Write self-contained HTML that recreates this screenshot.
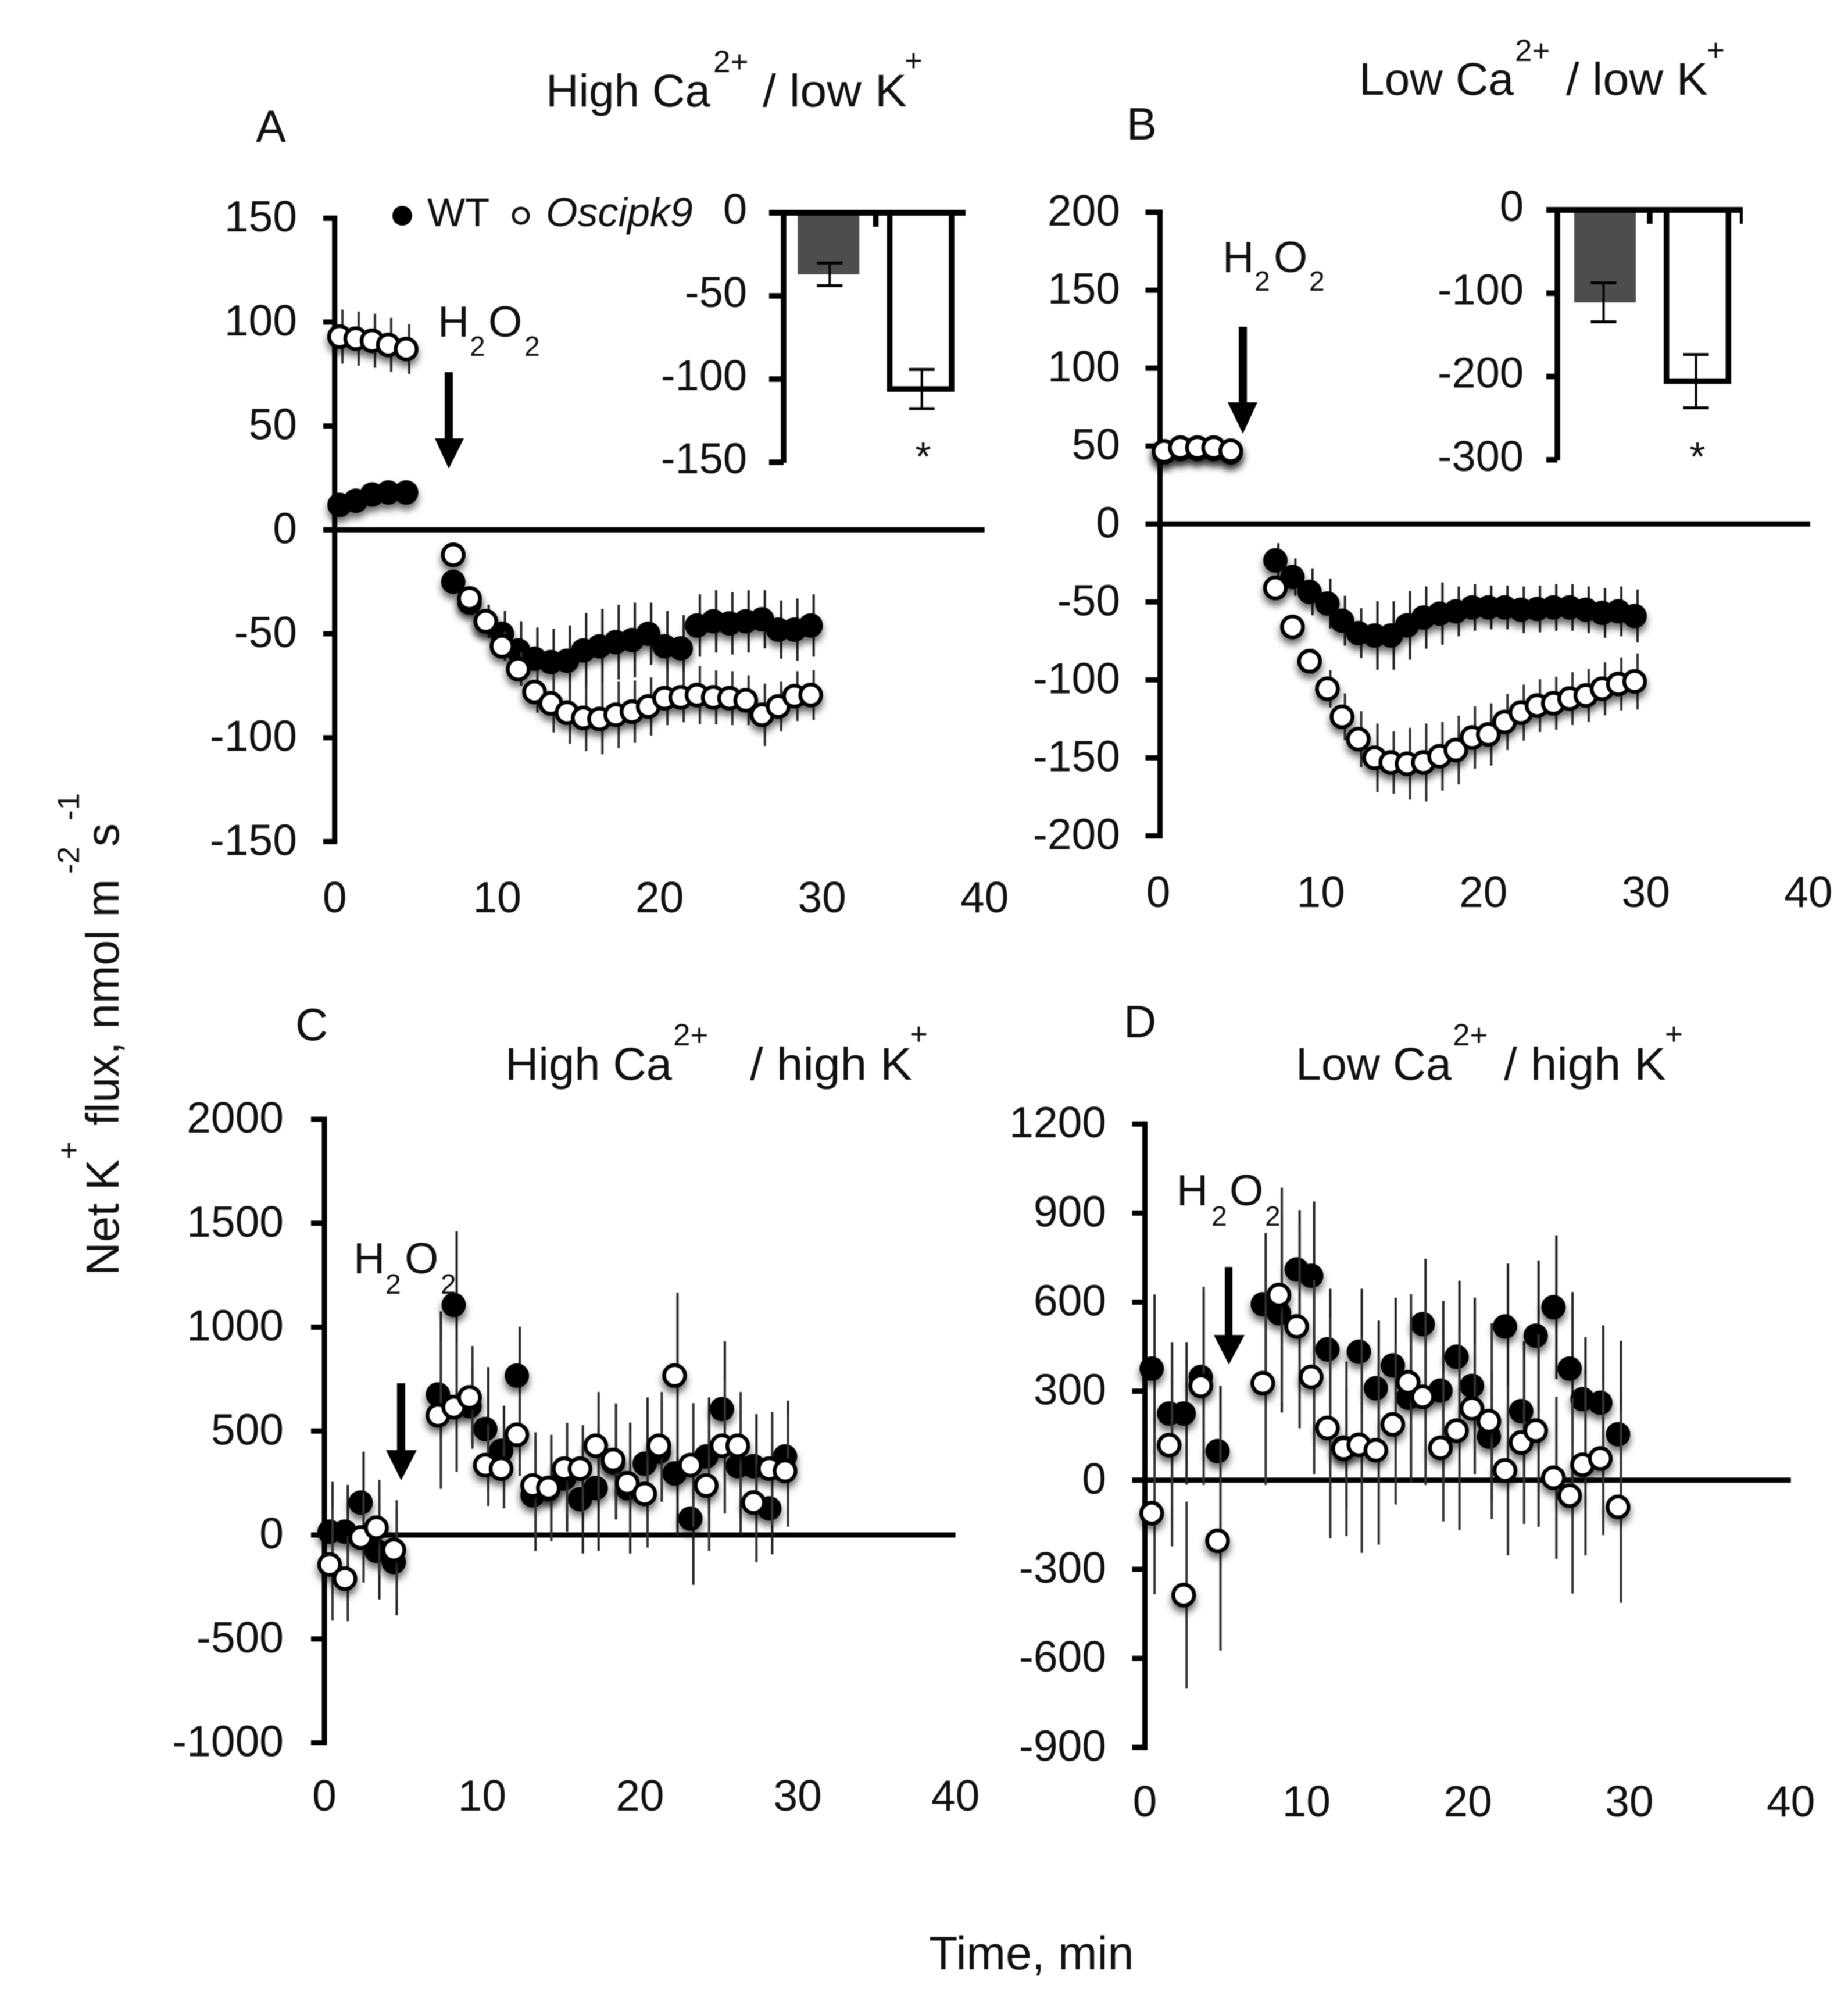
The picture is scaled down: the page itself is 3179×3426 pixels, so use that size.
<!DOCTYPE html>
<html lang="en">
<head>
<meta charset="utf-8">
<title>Net K+ flux panels</title>
<style>
html,body{margin:0;padding:0;background:#fff;width:3179px;height:3426px;overflow:hidden}
svg{display:block;filter:blur(0.9px)}
text{font-family:"Liberation Sans",Arial,sans-serif;fill:#111}
.t{font-size:79px}.s{font-size:53px}.l{font-size:78px}.h{font-size:75px}.hs{font-size:48px}
</style>
</head>
<body>
<svg id="chart" xmlns="http://www.w3.org/2000/svg" width="3179" height="3426" viewBox="0 0 3179 3426">
<defs>
<filter id="shadow" filterUnits="userSpaceOnUse" x="0" y="0" width="3179" height="3426">
<feDropShadow dx="0" dy="9" stdDeviation="6.5" flood-color="#000" flood-opacity="0.6"/>
</filter>
</defs>
<rect x="0" y="0" width="3179" height="3426" fill="#fff"/>

<g>
<text class="t" x="939" y="183" textLength="283" lengthAdjust="spacingAndGlyphs">High Ca</text>
<text class="s" x="1227" y="124">2+</text>
<text class="t" x="1312" y="183" textLength="248" lengthAdjust="spacingAndGlyphs">/ low K</text>
<text class="s" x="1556" y="122">+</text>
</g>
<g>
<text class="t" x="2338" y="163" textLength="266" lengthAdjust="spacingAndGlyphs">Low Ca</text>
<text class="s" x="2606" y="105">2+</text>
<text class="t" x="2694" y="163" textLength="244" lengthAdjust="spacingAndGlyphs">/ low K</text>
<text class="s" x="2936" y="104">+</text>
</g>
<g>
<text class="t" x="869" y="1857" textLength="287" lengthAdjust="spacingAndGlyphs">High Ca</text>
<text class="s" x="1158" y="1798">2+</text>
<text class="t" x="1290" y="1857" textLength="279" lengthAdjust="spacingAndGlyphs">/ high K</text>
<text class="s" x="1565" y="1796">+</text>
</g>
<g>
<text class="t" x="2229" y="1857" textLength="268" lengthAdjust="spacingAndGlyphs">Low Ca</text>
<text class="s" x="2499" y="1798">2+</text>
<text class="t" x="2587" y="1857" textLength="279" lengthAdjust="spacingAndGlyphs">/ high K</text>
<text class="s" x="2864" y="1796">+</text>
</g>

<text class="l" x="440" y="244">A</text>
<text class="l" x="1938" y="240">B</text>
<text class="l" x="508" y="1789">C</text>
<text class="l" x="1933" y="1784">D</text>

<g>
<text font-size="80" transform="translate(204,2194) rotate(-90)">Net K</text>
<text class="s" transform="translate(136,1994) rotate(-90)">+</text>
<text font-size="80" transform="translate(204,1936) rotate(-90)" textLength="424" lengthAdjust="spacingAndGlyphs">flux, nmol m</text>
<text class="s" transform="translate(136,1503) rotate(-90)">-2</text>
<text font-size="80" transform="translate(204,1456) rotate(-90)">s</text>
<text class="s" transform="translate(136,1411) rotate(-90)">-1</text>
</g>
<text font-size="81" x="1598" y="3387">Time, min</text>

<g id="panels"></g>

<g>
<circle cx="692" cy="371" r="17" fill="#000"/>
<text font-size="69" x="735" y="389">WT</text>
<circle cx="896" cy="371" r="13" fill="#fff" stroke="#111" stroke-width="5"/>
<text font-size="70" font-style="italic" x="939" y="389">Oscipk9</text>
</g>

<g>
<text class="h" x="753" y="579">H</text><text class="hs" x="808" y="612">2</text><text class="h" x="840" y="579">O</text><text class="hs" x="902" y="612">2</text>
</g>
<g>
<text class="h" x="2103" y="468">H</text><text class="hs" x="2158" y="500">2</text><text class="h" x="2191" y="468">O</text><text class="hs" x="2252" y="500">2</text>
</g>
<g>
<text class="h" x="608" y="2190">H</text><text class="hs" x="663" y="2225">2</text><text class="h" x="696" y="2190">O</text><text class="hs" x="758" y="2225">2</text>
</g>
<g>
<text class="h" x="2024" y="2073">H</text><text class="hs" x="2084" y="2108">2</text><text class="h" x="2115" y="2073">O</text><text class="hs" x="2176" y="2108">2</text>
</g>

<polygon points="765,640 779,640 779,754 798,754 772,806 748,754 765,754" fill="#000"/>
<polygon points="2131,562 2145,562 2145,692 2163,692 2138,746 2112,692 2131,692" fill="#000"/>
<polygon points="683,2379 697,2379 697,2494 717,2494 690,2546 664,2494 683,2494" fill="#000"/>
<polygon points="2107,2179 2120,2179 2120,2296 2141,2296 2114,2347 2088,2296 2107,2296" fill="#000"/>

<text font-size="70" x="1588" y="809" text-anchor="middle" fill="#333">*</text>
<text font-size="70" x="2920" y="809" text-anchor="middle" fill="#333">*</text>
</svg>
<script>
// Panel A
const xTicks = [0, 10, 20, 30, 40];
const yTicksA = [150, 100, 50, 0, -50, -100, -150];
const timeA = [0.3,1.3,2.3,3.3,4.4,7.3,8.3,9.3,10.3,11.3,12.3,13.3,14.3,15.3,16.3,17.3,18.3,19.3,20.3,21.3,22.3,23.3,24.3,25.3,26.3,27.3,28.3,29.3];
const wtA = [12,14,17,18,18,-25,-35,-44,-50,-58,-62,-63.6,-63,-58,-56,-54,-53,-50,-56,-57,-46,-44,-45,-44,-43,-48,-48,-46];
const wtErrA = [3,3,3,3,3,5,6,8,11,14,15,16,17,18,18,18,18,15,17,16,15,15,15,15,14,14,15,15];
const oscA = [93,92,91,89,87,-12,-33,-44,-56,-67,-78,-83.5,-88,-90.5,-91,-89,-87.5,-85,-81,-80.6,-79.5,-80.6,-81,-82,-89,-85,-80,-79.5];
const oscErrA = [13,13,13,13,12,2,3,5,7,8,10,14,15,16,17,16,15,14,13,12,14,13,13,12,15,12,12,12];
// Panel B
const yTicksB = [200, 150, 100, 50, 0, -50, -100, -150, -200];
const timeB = [0.25,1.25,2.3,3.3,4.35,7.1,8.15,9.2,10.3,11.2,12.2,13.2,14.2,15.2,16.2,17.2,18.2,19.2,20.2,21.2,22.2,23.2,24.2,25.2,26.2,27.2,28.2,29.2];
const wtB = [46,48,48,48,46,-23.3,-34,-43.5,-51,-62,-70,-71.5,-71.5,-65,-60,-57.5,-56,-53.5,-53.5,-53.5,-55,-54.5,-53.5,-53.5,-55,-57,-56,-59];
const wtErrB = [3,3,3,3,3,11,12,15,16,16,16,22,22,22,20,20,16,15,14,14,15,15,15,15,15,16,16,17];
const oscB = [46.6,49,49,49,47,-41,-66,-88,-105.7,-123.7,-138,-150,-153,-153.8,-153,-149,-145,-137,-135,-127,-121,-116.5,-115,-112,-110,-105.7,-102.6,-101];
const oscErrB = [3,3,3,3,3,1,2,8,12,15,18,22,20,23,25,22,22,20,20,18,18,17,17,17,17,17,17,18];
// Panel C
const yTicksC = [2000, 1500, 1000, 500, 0, -500, -1000];
const timeC = [0.33,1.3,2.3,3.3,4.4,7.2,8.2,9.2,10.2,11.2,12.2,13.2,14.2,15.2,16.2,17.2,18.3,19.2,20.3,21.2,22.2,23.2,24.2,25.2,26.2,27.2,28.2,29.2];
const wtC = [16,16,156,-77,-130,676,1107,620,510,405,767,191,220,272,172,226,350,226,343,400,296,79,378,606,331,331,128,378];
const wtErrC = [240,225,245,233,256,400,354,180,298,217,235,268,226,256,261,303,275,315,319,240,300,319,284,326,326,250,221,268];
const oscC = [-142,-210,-12,35,-72,576,615,662,336,319,482,238,226,319,319,429,361,249,198,429,767,336,238,429,429,156,319,308];
const oscErrC = [270,205,217,230,240,354,312,247,196,191,198,256,256,221,210,259,272,255,259,259,399,298,315,326,259,287,273,268];
// Panel D
const yTicksD = [1200, 900, 600, 300, 0, -300, -600, -900];
const timeD = [0.42,1.5,2.4,3.46,4.5,7.3,8.3,9.4,10.3,11.3,12.3,13.25,14.3,15.35,16.3,17.2,18.3,19.3,20.25,21.3,22.3,23.3,24.2,25.3,26.3,27.1,28.2,29.3];
const wtD = [376,225,225,348,98,593,563,710,689,441,110,433,310,387,278,526,302,416,318,147,518,233,487,583,376,273,261,155];
const wtErrD = [250,240,240,284,220,240,335,200,250,204,200,212,228,228,286,220,302,256,297,220,212,235,253,242,258,209,261,315];
const oscD = [-111,118,-387,318,-204,327,624,518,348,176,106,119,101,188,330,281,109,167,242,199,33,127,167,8,-52,52,73,-90];
const oscErrD = [273,341,315,334,370,343,362,343,327,372,294,364,318,270,297,297,248,335,220,330,286,274,324,273,330,305,258,323];
// Insets
const insetCategories = ["WT", "Oscipk9"];
const insetTicksA = [0, -50, -100, -150];
const insetValuesA = [-37, -106];
const insetErrA = [6.8, 11.8];
const insetTicksB = [0, -100, -200, -300];
const insetValuesB = [-111, -205.6];
const insetErrB = [23.4, 32.1];

const NS = 'http://www.w3.org/2000/svg';
function mk(tag, attrs, parent, text) {
  const el = document.createElementNS(NS, tag);
  for (const k in attrs) el.setAttribute(k, attrs[k]);
  if (text !== undefined) el.textContent = text;
  parent.appendChild(el);
  return el;
}

function drawPanel(root, p) {
  const g = mk('g', {}, root);
  
  
  const xs = v => p.x0 + v * p.xPer;
  const ys = v => p.y0 - v * p.yPer;

  const zero = mk('line', {x1: p.x0 - p.tickLen, x2: xs(40), y1: ys(0), y2: ys(0), stroke: '#000', 'stroke-width': 9}, g);
  
  

  const top = ys(p.yTicks[0]);
  const bottom = ys(p.yTicks[p.yTicks.length - 1]);
  const spine = mk('line', {x1: p.x0, x2: p.x0, y1: top - 4.5, y2: bottom + 4.5, stroke: '#000', 'stroke-width': 9}, g);
  
  

  p.yTicks.forEach(v => {
    const t = mk('line', {x1: p.x0 - p.tickLen, x2: p.x0, y1: ys(v), y2: ys(v), stroke: '#000', 'stroke-width': 9}, g);
    
    
    const lab = mk('text', {x: p.labelRight, y: ys(v) + 23, 'text-anchor': 'end', 'font-size': 75}, g, String(v));
    
    
  });
  xTicks.forEach(v => {
    const lab = mk('text', {x: xs(v) + p.xLabelDx, y: p.xLabelY, 'text-anchor': 'middle', 'font-size': 75}, g, String(v));
    
    
  });

  const wtErrGroup = mk('g', {}, g);
  
  
  p.time.forEach((t, i) => {
    const e = mk('line', {x1: xs(t) + 5, x2: xs(t) + 5, y1: ys(p.wt[i] + p.wtErr[i]), y2: ys(p.wt[i] - p.wtErr[i]), stroke: '#222', 'stroke-width': 4}, wtErrGroup);
    
    
  });
  const wtGroup = mk('g', {filter: 'url(#shadow)'}, g);
  
  
  p.time.forEach((t, i) => {
    const c = mk('circle', {cx: xs(t), cy: ys(p.wt[i]), r: 21, fill: '#000'}, wtGroup);
    
    
  });

  const oscErrGroup = mk('g', {}, g);
  
  
  p.time.forEach((t, i) => {
    const e = mk('line', {x1: xs(t) + 5, x2: xs(t) + 5, y1: ys(p.osc[i] + p.oscErr[i]), y2: ys(p.osc[i] - p.oscErr[i]), stroke: '#333', 'stroke-width': 4}, oscErrGroup);
    
    
  });
  const oscGroup = mk('g', {filter: 'url(#shadow)'}, g);
  
  
  p.time.forEach((t, i) => {
    const c = mk('circle', {cx: xs(t), cy: ys(p.osc[i]), r: 18, fill: '#fff', stroke: '#000', 'stroke-width': 6.5}, oscGroup);
    
    
  });
}

function drawInset(root, q) {
  const g = mk('g', {}, root);
  
  
  const ys = v => q.y0 - v * q.yPer;
  const cx = i => q.x0 + (i + 0.5) * q.band;

  insetCategories.forEach((c, i) => {
    if (i === 0) {
      const b = mk('rect', {x: cx(i) + q.barShift - 53, y: ys(0), width: 106, height: ys(q.values[i]) - ys(0), fill: '#4d4d4d'}, g);
      
      
    } else {
      const b = mk('rect', {x: cx(i) + q.barShift - 53.25, y: ys(0), width: 106.5, height: ys(q.values[i]) - ys(0), fill: '#fff', stroke: '#000', 'stroke-width': 9.5}, g);
      
      
    }
    const top = ys(q.values[i] + q.err[i]);
    const bot = ys(q.values[i] - q.err[i]);
    const stem = mk('line', {x1: cx(i), x2: cx(i), y1: top, y2: bot, stroke: '#000', 'stroke-width': 4}, g);
    
    
    [top, bot].forEach(y => {
      const cap = mk('line', {x1: cx(i) - 22, x2: cx(i) + 22, y1: y, y2: y, stroke: '#000', 'stroke-width': 5}, g);
      
      
    });
  });

  const axisTop = mk('line', {x1: q.lineLeft, x2: q.lineRight, y1: ys(0), y2: ys(0), stroke: '#000', 'stroke-width': 10}, g);
  
  
  const bottom = ys(q.ticks[q.ticks.length - 1]);
  const axisLeft = mk('line', {x1: q.x0, x2: q.x0, y1: ys(0), y2: bottom + 1, stroke: '#000', 'stroke-width': 9.5}, g);
  
  

  const midTick = mk('line', {x1: q.x0 + q.band, x2: q.x0 + q.band, y1: ys(0), y2: ys(0) + 24, stroke: '#000', 'stroke-width': 9.5}, g);
  
  
  if (q.endTick) {
    const endTick = mk('line', {x1: q.lineRight - 2.5, x2: q.lineRight - 2.5, y1: ys(0), y2: ys(0) + 24, stroke: '#000', 'stroke-width': 5}, g);
    
    
  }

  q.ticks.forEach(v => {
    const t = mk('line', {x1: q.lineLeft, x2: q.x0, y1: ys(v), y2: ys(v), stroke: '#000', 'stroke-width': 9.5}, g);
    
    
    const lab = mk('text', {x: q.labelRight, y: ys(v) + 19, 'text-anchor': 'end', 'font-size': 74}, g, String(v));
    
    
  });
}

const panelsRoot = document.getElementById('panels');
drawPanel(panelsRoot, {name: 'panel-a', x0: 575.7, xPer: 27.95, y0: 911.3, yPer: 3.574, tickLen: 19.7, labelRight: 511, xLabelDx: 0, xLabelY: 1569, yTicks: yTicksA, time: timeA, wt: wtA, wtErr: wtErrA, osc: oscA, oscErr: oscErrA});
drawPanel(panelsRoot, {name: 'panel-b', x0: 1995.5, xPer: 27.96, y0: 901.25, yPer: 2.681, tickLen: 25, labelRight: 1927, xLabelDx: -3, xLabelY: 1560, yTicks: yTicksB, time: timeB, wt: wtB, wtErr: wtErrB, osc: oscB, oscErr: oscErrB});
drawPanel(panelsRoot, {name: 'panel-c', x0: 558, xPer: 27.14, y0: 2640, yPer: 0.3575, tickLen: 23, labelRight: 488, xLabelDx: 0, xLabelY: 3114, yTicks: yTicksC, time: timeC, wt: wtC, wtErr: wtErrC, osc: oscC, oscErr: oscErrC});
drawPanel(panelsRoot, {name: 'panel-d', x0: 1969.5, xPer: 27.78, y0: 2545.8, yPer: 0.5105, tickLen: 22, labelRight: 1903, xLabelDx: 0, xLabelY: 3124, yTicks: yTicksD, time: timeD, wt: wtD, wtErr: wtErrD, osc: oscD, oscErr: oscErrD});
drawInset(panelsRoot, {name: 'inset-a', x0: 1348, band: 158.5, y0: 366, yPer: 2.86, lineLeft: 1323, lineRight: 1661, barShift: -2, labelRight: 1285, endTick: false, ticks: insetTicksA, values: insetValuesA, err: insetErrA});
drawInset(panelsRoot, {name: 'inset-b', x0: 2679, band: 159, y0: 361, yPer: 1.4327, lineLeft: 2660, lineRight: 2998, barShift: 2.5, labelRight: 2621, endTick: true, ticks: insetTicksB, values: insetValuesB, err: insetErrB});
</script>
</body>
</html>
